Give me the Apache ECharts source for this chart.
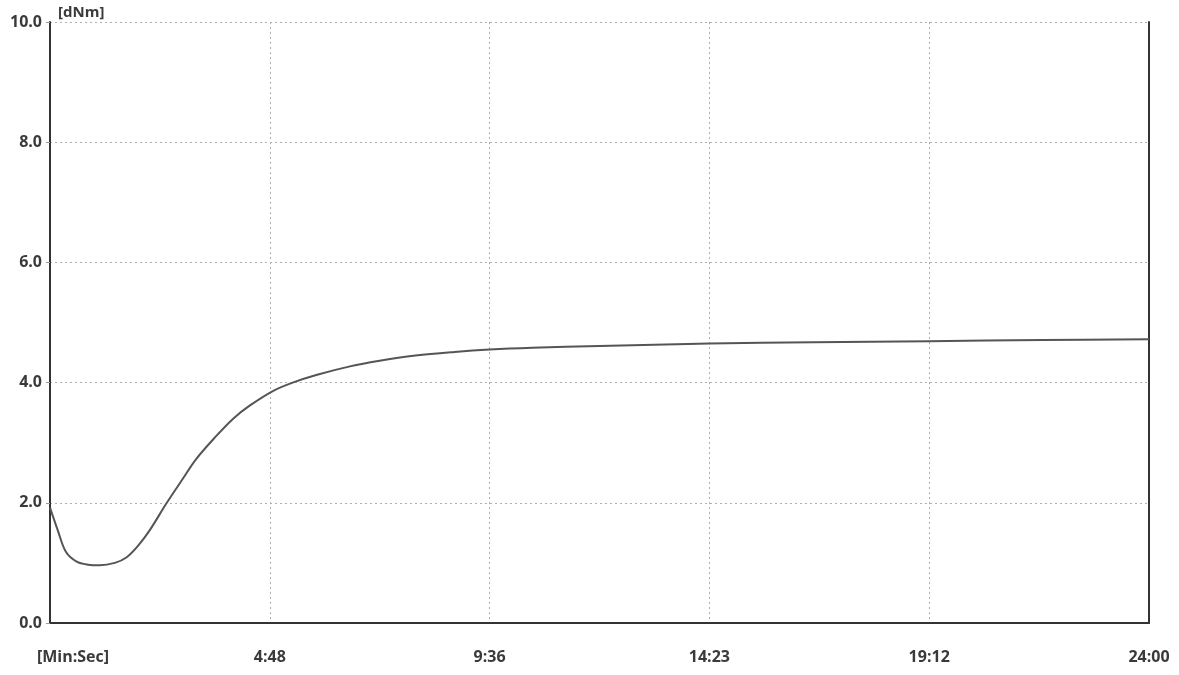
<!DOCTYPE html>
<html>
<head>
<meta charset="utf-8">
<script src="https://cdn.jsdelivr.net/npm/echarts@6/dist/echarts.min.js"></script>
<style>
  html, body { margin: 0; padding: 0; background: #fff; }
  #chart { width: 1179px; height: 675px; }
</style>
</head>
<body>
<div id="chart"></div>
<script>
// Torque curve: time in seconds, torque in dNm
const timeSec = [0, 10, 21, 35, 50, 65, 85, 100, 115, 131, 152, 174, 191, 217, 240, 262, 292, 318, 350, 393, 430, 479, 530, 576, 632, 720, 864, 1000, 1152, 1300, 1440];
const torque  = [1.92, 1.55, 1.18, 1.02, 0.97, 0.96, 1.0, 1.09, 1.28, 1.55, 1.98, 2.4, 2.72, 3.1, 3.4, 3.62, 3.86, 4.0, 4.13, 4.27, 4.36, 4.45, 4.51, 4.55, 4.58, 4.61, 4.65, 4.67, 4.69, 4.71, 4.72];

// Time axis tick labels, one per 288 s step
const timeTickLabels = ['[Min:Sec]', '4:48', '9:36', '14:23', '19:12', '24:00'];
const timeStep = 288;

const points = timeSec.map((t, i) => [t, torque[i]]);

const labelFont = {
  fontFamily: 'Open Sans, Liberation Sans, sans-serif',
  fontWeight: 'bold',
  fontSize: 16,
  color: '#3a3a3a'
};

const chart = echarts.init(document.getElementById('chart'));
chart.setOption({
  animation: false,
  backgroundColor: '#fff',
  grid: { left: 50, right: 30, top: 22, bottom: 52 },
  xAxis: {
    type: 'value',
    min: 0,
    max: 1440,
    interval: timeStep,
    axisLine: { show: true, lineStyle: { color: '#333', width: 2 } },
    axisTick: { show: false },
    splitLine: { show: true, lineStyle: { color: '#b0b0b0', type: [2, 3], width: 1 } },
    axisLabel: Object.assign({}, labelFont, {
      margin: 26,
      formatter: function (v) {
        const s = timeTickLabels[Math.round(v / timeStep)] || '';
        return v === 0 ? '{first|' + s + '}' : s;
      },
      rich: {
        first: Object.assign({}, labelFont, { padding: [0, 0, 0, 46] })
      }
    })
  },
  yAxis: [{
    type: 'value',
    min: 0,
    max: 10,
    interval: 2,
    name: '[dNm]',
    nameLocation: 'end',
    nameGap: 2,
    nameTextStyle: Object.assign({}, labelFont, { fontSize: 15, align: 'left', padding: [0, 0, 0, 8] }),
    axisLine: { show: true, lineStyle: { color: '#333', width: 2 } },
    axisTick: { show: true, length: 4, lineStyle: { color: '#999' } },
    splitLine: { show: true, lineStyle: { color: '#b0b0b0', type: [2, 3], width: 1 } },
    axisLabel: Object.assign({}, labelFont, {
      margin: 8,
      formatter: v => v.toFixed(1)
    })
  }, {
    type: 'value',
    position: 'right',
    min: 0,
    max: 10,
    interval: 2,
    axisLine: { show: true, lineStyle: { color: '#333', width: 2 } },
    axisTick: { show: false },
    axisLabel: { show: false },
    splitLine: { show: false }
  }],
  series: [{
    type: 'line',
    data: points,
    smooth: 0.35,
    showSymbol: false,
    lineStyle: { color: '#555', width: 2 }
  }]
});
</script>
</body>
</html>
